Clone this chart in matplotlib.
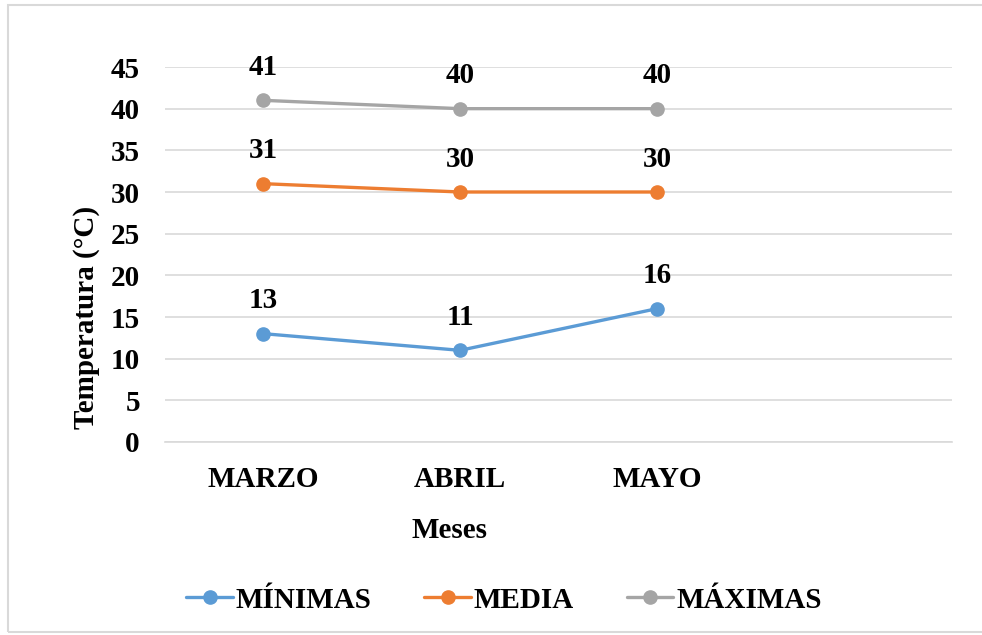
import matplotlib.pyplot as plt
from matplotlib.patches import Rectangle

meses = ['MARZO', 'ABRIL', 'MAYO', '']
minimas = [13, 11, 16]
media = [31, 30, 30]
maximas = [41, 40, 40]

series = [('MÍNIMAS', minimas, '#5B9BD5'),
          ('MEDIA', media, '#ED7D31'),
          ('MÁXIMAS', maximas, '#A5A5A5')]

plt.rcParams['font.family'] = ['Liberation Serif', 'DejaVu Serif']
plt.rcParams['font.weight'] = 'bold'

fig = plt.figure(figsize=(9.82, 6.35), dpi=100)
fig.patches.append(Rectangle((8 / 982, 3 / 635), 1.2, 1 - 8 / 635, transform=fig.transFigure,
                             fill=False, edgecolor='#D9D9D9', linewidth=1.5))
ax = fig.add_axes([165 / 982, 193 / 635, 787 / 982, 375 / 635])

x = list(range(len(meses)))
for nombre, vals, color in series:
    ax.plot(x[:len(vals)], vals, color=color, linewidth=2.4, marker='o', markersize=9.5,
            label=nombre, solid_capstyle='round')
    for xi, v in zip(x, vals):
        ax.annotate(str(v), (xi, v), xytext=(0, 14), textcoords='offset points',
                    ha='center', va='bottom', fontsize=21, fontweight='bold')

ax.set_xlim(-0.5, len(meses) - 0.5)
ax.set_ylim(0, 45)
ax.set_yticks(range(0, 46, 5))
ax.set_xticks(x)
ax.set_xticklabels(meses)
ax.tick_params(axis='both', length=0, labelsize=21)
ax.tick_params(axis='x', pad=17)
ax.tick_params(axis='y', pad=18)
ax.grid(axis='y', color='#D9D9D9', linewidth=1.2)
ax.set_axisbelow(True)
for s in ['top', 'right', 'left']:
    ax.spines[s].set_visible(False)
ax.spines['bottom'].set_color('#D9D9D9')
ax.spines['bottom'].set_linewidth(1.2)

fig.text(449 / 982, 1 - 530 / 635, 'Meses', ha='center', va='center', fontsize=21, fontweight='bold')
fig.text(86 / 982, 1 - 317 / 635, 'Temperatura (°C)', ha='center', va='center', rotation=90,
         fontsize=21, fontweight='bold')

fig.legend(loc='center', bbox_to_anchor=(504 / 982, 1 - 600 / 635), ncol=3, frameon=False,
           fontsize=21, handlelength=1.6, handletextpad=0.1, columnspacing=1.8)

fig.savefig('out.png', dpi=100)
